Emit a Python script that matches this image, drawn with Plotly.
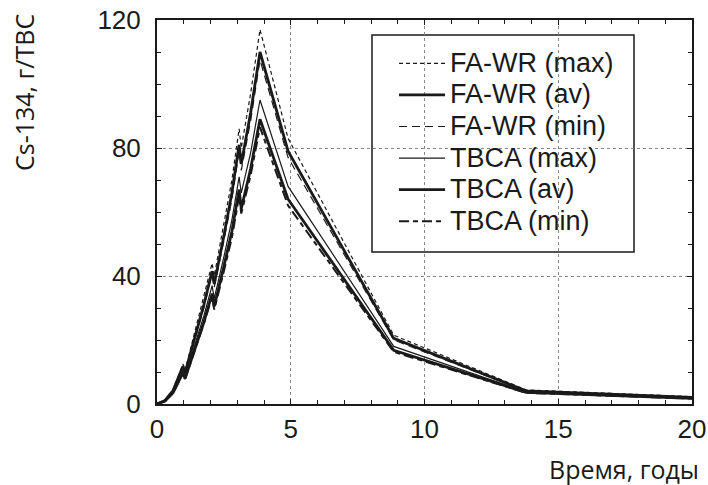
import plotly.graph_objects as go

# Time, years
t = [0, 0.3, 0.6, 0.97, 1.05, 1.4, 1.75, 2.06, 2.14, 2.5, 2.8, 3.07, 3.15, 3.5, 3.85, 4.9, 8.85, 13.8, 20]

# Cs-134, g/TVS
fawr_max = [0, 1.2, 4.5, 12.5, 10.5, 22, 33, 44, 40, 56, 70, 86, 80, 97, 117, 83, 21.5, 4.4, 2.3]
fawr_av = [0, 1.1, 4.2, 11.8, 9.8, 20.5, 31, 41.5, 37.5, 52.5, 66, 81, 75, 91, 110, 79, 20.5, 4.1, 2.1]
fawr_min = [0, 1.0, 4.0, 11.3, 9.4, 19.8, 30, 40.5, 36.5, 51, 64, 79, 73, 88.5, 107.5, 77, 20, 4.0, 2.0]
tbca_max = [0, 1.0, 3.8, 10.5, 8.8, 18.5, 27.5, 37, 33, 46, 57.5, 71, 66, 78.5, 95, 68, 18, 3.8, 1.9]
tbca_av = [0, 0.9, 3.5, 9.8, 8.0, 17, 25.5, 34.5, 30.5, 43, 54, 67, 61, 73.5, 89, 64, 16.8, 3.6, 1.8]
tbca_min = [0, 0.9, 3.4, 9.5, 7.8, 16.5, 25, 33.5, 29.5, 41.5, 52, 65, 59.5, 71.5, 86.5, 62, 16.3, 3.5, 1.7]

names = ["FA-WR (max)", "FA-WR (av)", "FA-WR (min)", "TBCA (max)", "TBCA (av)", "TBCA (min)"]
series = [fawr_max, fawr_av, fawr_min, tbca_max, tbca_av, tbca_min]
styles = [
    dict(width=1.2, dash="4px,3px"),
    dict(width=2.8, dash="solid"),
    dict(width=1.2, dash="8px,5px"),
    dict(width=1.2, dash="solid"),
    dict(width=2.8, dash="solid"),
    dict(width=2.0, dash="10px,4px,5px,4px"),
]

fig = go.Figure()
for i, (n, s, st) in enumerate(zip(names, series, styles)):
    fig.add_trace(go.Scatter(
        x=t, y=s, mode="lines",
        name=f'<span style="font-size:27px">{n}</span>', legendgroup=f"g{i}",
        line=dict(color="#1a1a1a", width=st["width"], dash=st["dash"]),
    ))

tickfont = dict(family="Liberation Sans, Arial, sans-serif", size=26, color="#1a1a1a")
titlefont = dict(family="Open Sans, Noto Sans, sans-serif", size=25, color="#1a1a1a")

FW, FH = 708, 485
# plot-area geometry in page pixels
L, R, T, B = 157, 692, 20, 404
W, H = R - L, B - T

fig.update_layout(
    width=FW, height=FH,
    margin=dict(l=L, r=FW - R, t=T, b=FH - B, autoexpand=False),
    paper_bgcolor="white", plot_bgcolor="white",
    showlegend=True,
    legend=dict(
        x=(394 - L) / W, y=(B - 42.5) / H, xanchor="left", yanchor="top",
        bgcolor="rgba(0,0,0,0)", borderwidth=0,
        font=dict(family="Liberation Sans, Arial, sans-serif", size=22, color="#1a1a1a"),
        tracegroupgap=0, itemwidth=46,
    ),
    xaxis=dict(
        range=[0, 20], tickvals=[0, 5, 10, 15, 20], automargin=False,
        showgrid=True, gridcolor="#888888", griddash="dot", gridwidth=1,
        showline=True, linecolor="#1a1a1a", linewidth=2, mirror="allticks",
        ticks="inside", ticklen=5, tickcolor="#1a1a1a",
        minor=dict(dtick=1, ticks="inside", ticklen=4, tickcolor="#1a1a1a", showgrid=False),
        tickfont=tickfont, zeroline=False, ticklabelstandoff=1,
    ),
    yaxis=dict(
        range=[0, 120], tickvals=[0, 40, 80, 120], automargin=False,
        showgrid=True, gridcolor="#888888", griddash="dot", gridwidth=1,
        showline=True, linecolor="#1a1a1a", linewidth=2, mirror="allticks",
        ticks="inside", ticklen=5, tickcolor="#1a1a1a",
        minor=dict(dtick=10, ticks="inside", ticklen=4, tickcolor="#1a1a1a", showgrid=False),
        tickfont=tickfont, zeroline=False, ticklabelstandoff=9,
    ),
    shapes=[dict(
        type="rect", xref="paper", yref="paper",
        x0=(372 - L) / W, x1=(634 - L) / W, y0=(B - 252) / H, y1=(B - 35) / H,
        line=dict(color="#1a1a1a", width=1.5), fillcolor="white", layer="below",
    )],
    annotations=[
        dict(text="Cs-134, г/ТВС", xref="paper", yref="paper",
             x=(24 - L) / W, y=(B - 93) / H,
             xanchor="center", yanchor="middle", textangle=-90,
             showarrow=False, font=titlefont),
        dict(text="Время, годы", xref="paper", yref="paper",
             x=(701 - L) / W, y=(B - 469) / H,
             xanchor="right", yanchor="middle",
             showarrow=False, font=titlefont),
    ],
)

# remove the default 8px body margin so the figure sits at the page origin
fig.write_html(
    "out.html",
    config={"displayModeBar": False},
    post_script="document.body.style.margin='0';",
)
